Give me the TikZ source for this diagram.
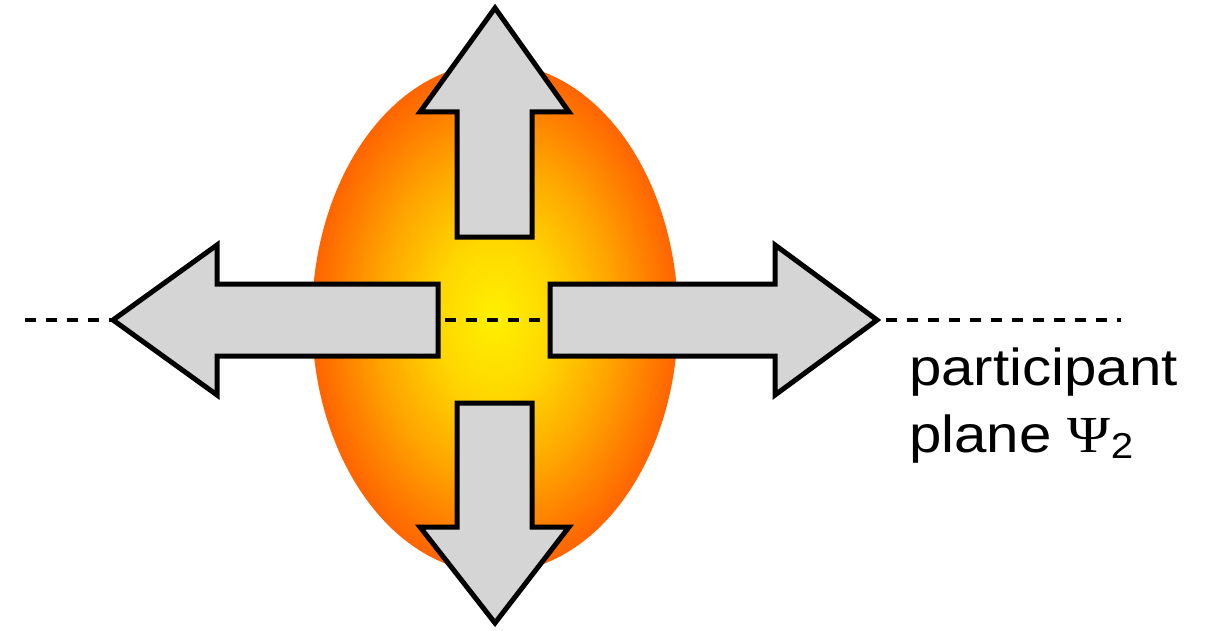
\documentclass[tikz,border=0pt]{standalone}
\usepackage{fontspec}
\setmainfont{Liberation Sans}
\newfontfamily\psifont{Liberation Serif}
\pgfdeclareradialshading{blob}{\pgfpoint{0bp}{0bp}}{%
  color(0bp)=(rgb,255:red,255;green,240;blue,0);
  color(8bp)=(rgb,255:red,255;green,214;blue,0);
  color(16bp)=(rgb,255:red,255;green,165;blue,0);
  color(25bp)=(rgb,255:red,255;green,100;blue,0);
  color(50bp)=(rgb,255:red,255;green,100;blue,0)}
\definecolor{arrowgray}{RGB}{213,213,213}
\tikzset{
  flowarrow/.style={draw=black, fill=arrowgray, line width=5pt, line join=miter},
  planeline/.style={draw=black, line width=4.5pt, dash pattern=on 10.5pt off 10.5pt},
  lbl/.style={inner sep=0pt, font=\fontsize{52}{60}\selectfont}
}
\newcommand{\widetext}[1]{\scalebox{1.12}[1]{#1}}
\begin{document}
\begin{tikzpicture}[x=1pt, y=-1pt]
  \useasboundingbox (0,0) rectangle (1206,631);
  % the fireball
  \path[shading=blob] (495,318) ellipse [x radius=183, y radius=255];
  % reaction plane, dashed, behind the arrows
  \coordinate (L) at (25,320);
  \coordinate (R) at (1121,320);
  \draw[planeline] (L) -- (R);
  % left arrow
  \path[flowarrow] (438,284) -- (217,284) -- (217,245) -- (113,320)
    -- (217,395) -- (217,356) -- (438,356) -- cycle;
  % right arrow
  \path[flowarrow] (550,284) -- (775,284) -- (775,245) -- (877,320)
    -- (775,395) -- (775,356) -- (550,356) -- cycle;
  % up arrow
  \path[flowarrow] (457,237) -- (457,112) -- (420,112) -- (495,8)
    -- (569,112) -- (532,112) -- (532,237) -- cycle;
  % down arrow
  \path[flowarrow] (457,403) -- (457,527) -- (420,527) -- (495,623)
    -- (569,527) -- (532,527) -- (532,403) -- cycle;
  % label
  \node[lbl, anchor=base west] (lbl1) at (909,385) {\widetext{participant}};
  \node[lbl, anchor=base west] (lbl2) at (909,452)
    {\widetext{plane {\psifont Ψ}\raisebox{-6pt}{\fontsize{36}{40}\selectfont 2}}};
\end{tikzpicture}
\end{document}
